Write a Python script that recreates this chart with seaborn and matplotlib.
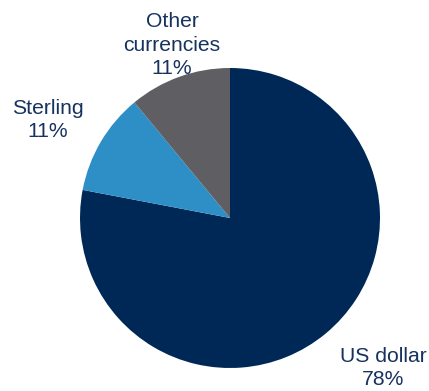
import matplotlib
matplotlib.use("Agg")
import matplotlib.pyplot as plt
import seaborn as sns

categories = ["US dollar", "Sterling", "Other currencies"]
shares = [78, 11, 11]
label_texts = ["US dollar\n78%", "Sterling\n11%", "Other\ncurrencies\n11%"]
colors = ["#002856", "#2E8FC7", "#5E5E63"]

sns.set_theme(style="white")
plt.rcParams['font.family'] = ['Liberation Sans', 'DejaVu Sans']

fig = plt.figure(figsize=(4.29, 3.91), dpi=100)
ax = fig.add_axes([80/429, 23/391, 300/429, 300/391])
ax.pie(shares, colors=colors, startangle=90, counterclock=False,
       radius=1, wedgeprops=dict(linewidth=0))
ax.set_xlim(-1, 1)
ax.set_ylim(-1, 1)
ax.set_aspect("equal")
ax.axis("off")

label_pos = [(1.02, -1.0), (-1.213, 0.653), (-0.387, 1.153)]
for txt, (x, y) in zip(label_texts, label_pos):
    ax.text(x, y, txt, ha="center", va="center", fontsize=15.2,
            color="#17325E", linespacing=1.27, clip_on=False)

fig.savefig("out.png", dpi=100)
